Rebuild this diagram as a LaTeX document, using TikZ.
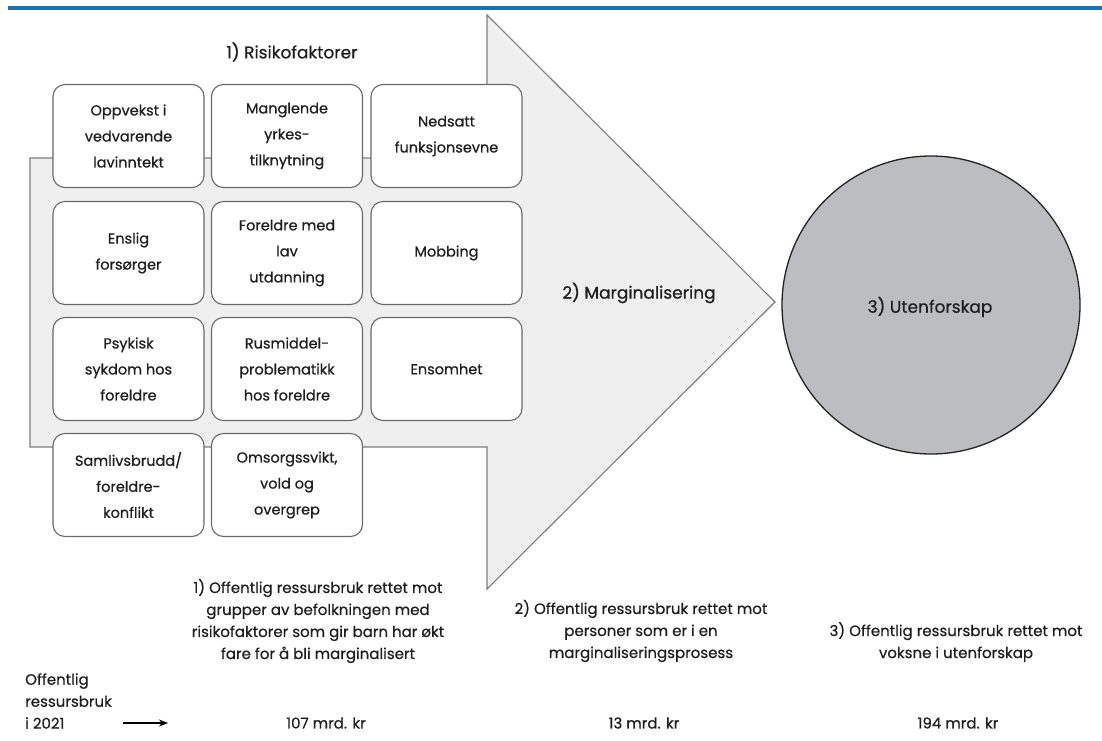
\documentclass[tikz,border=0pt]{standalone}
\usepackage{fontspec}
\setmainfont{Poppins}[UprightFeatures={FakeBold=0.6}]
\usetikzlibrary{arrows.meta}
\definecolor{topblue}{RGB}{24,112,186}
\definecolor{arrowfill}{RGB}{239,239,239}
\definecolor{arrowline}{RGB}{125,125,125}
\definecolor{boxline}{RGB}{105,105,105}
\definecolor{circfill}{RGB}{188,189,193}
\definecolor{circline}{RGB}{35,35,35}
\definecolor{textdark}{RGB}{30,30,30}
\begin{document}
\begin{tikzpicture}[x=1pt,y=-1pt,
  factor/.style={draw=boxline, line width=1.1pt, fill=white, rounded corners=12pt,
    minimum width=151pt, minimum height=103pt, align=center, inner sep=0pt,
    text=textdark, font=\fontsize{14.5}{26}\selectfont},
  heading/.style={text=textdark, font=\fontsize{17}{20}\selectfont, inner sep=0pt},
  note/.style={text=textdark, align=center, inner sep=0pt, font=\fontsize{15}{22}\selectfont},
  bignote/.style={draw=arrowline, line width=1.1pt, fill=arrowfill, line join=miter}
]
\useasboundingbox (0,0) rectangle (1102,740);
% top rule
\draw[topblue, line width=3.5pt] (8,8) -- (1102,8);
% big arrow
\draw[bignote] (30,158) -- (487,158) -- (487,15) -- (775,302) -- (487,589)
  -- (487,447) -- (30,447) -- cycle;
\node[heading] (risk) at (292,52) {1) Risikofaktorer};
\node[heading] (marg) at (639,293) {2) Marginalisering};
% circle
\node[draw=circline, line width=1.3pt, fill=circfill, circle, minimum size=298pt,
  inner sep=0pt] (ute) at (931,305) {};
\node[heading] (utelabel) at (930,307) {3) Utenforskap};
% factor boxes
\node[factor] (b11) at (128.5,136) {Oppvekst i\\vedvarende\\lavinntekt};
\node[factor] (b12) at (287,136) {Manglende\\yrkes-\\tilknytning};
\node[factor] (b13) at (446.5,136) {Nedsatt\\funksjonsevne};
\node[factor] (b21) at (128.5,253) {Enslig\\forsørger};
\node[factor] (b22) at (287,253) {Foreldre med\\lav\\utdanning};
\node[factor] (b23) at (446.5,253) {Mobbing};
\node[factor] (b31) at (128.5,369) {Psykisk\\sykdom hos\\foreldre};
\node[factor] (b32) at (287,369) {Rusmiddel-\\problematikk\\hos foreldre};
\node[factor] (b33) at (446.5,369) {Ensomhet};
\node[factor] (b41) at (128.5,485) {Samlivsbrudd/\\foreldre-\\konflikt};
\node[factor] (b42) at (287,485) {Omsorgssvikt,\\vold og\\overgrep};
% bottom notes
\node[note] (n1) at (318,621) {1) Offentlig ressursbruk rettet mot\\grupper av befolkningen med\\risikofaktorer som gir barn har økt\\fare for å bli marginalisert};
\node[note] (n2) at (641,631) {2) Offentlig ressursbruk rettet mot\\personer som er i en\\marginaliseringsprosess};
\node[note] (n3) at (956,642) {3) Offentlig ressursbruk rettet mot\\voksne i utenforskap};
\node[note, align=left, anchor=west] (lead) at (25,701) {Offentlig\\ressursbruk\\i 2021};
\node[note] (v1) at (326,723) {107 mrd. kr};
\node[note] (v2) at (644,723) {13 mrd. kr};
\node[note] (v3) at (958,723) {194 mrd. kr};
\coordinate (arrS) at (123,723);
\coordinate (arrE) at (168,723);
\draw[-{Stealth[length=9pt,width=7pt]}, line width=1.3pt, black] (arrS) -- (arrE);
\end{tikzpicture}
\end{document}
